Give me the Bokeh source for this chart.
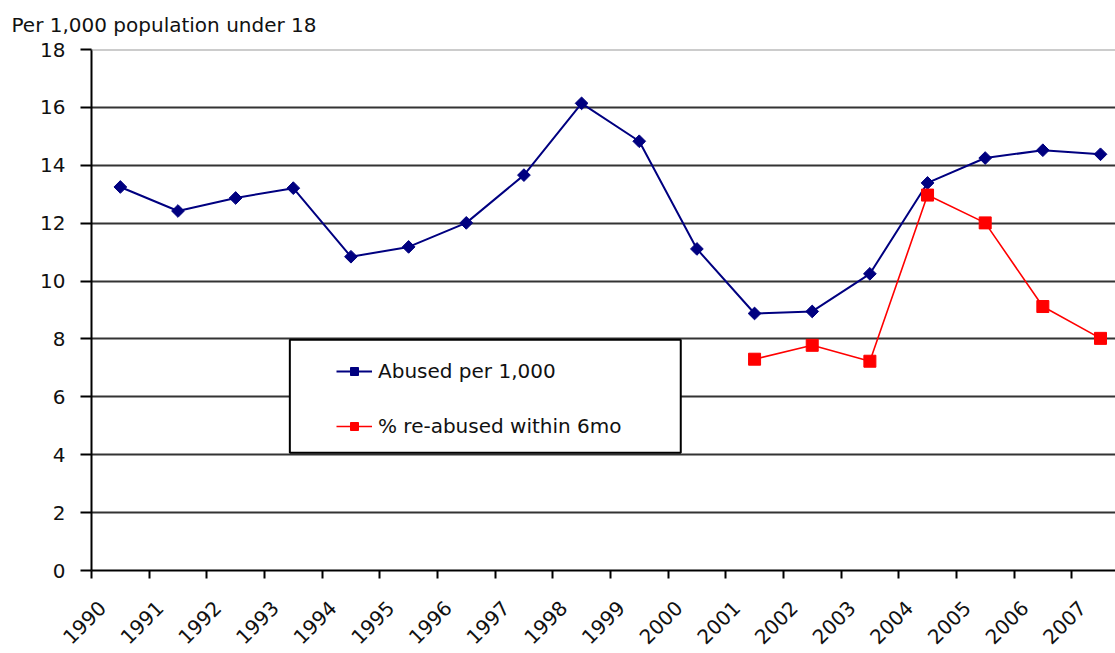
import math
from bokeh.plotting import figure
from bokeh.models import FixedTicker, Legend, LegendItem, BoxAnnotation, Range1d, Span
from bokeh.embed import file_html
from bokeh.resources import INLINE

# ---- data ----
years = list(range(1990, 2008))
abused = [13.25, 12.42, 12.87, 13.21, 10.84, 11.18, 12.01, 13.66, 16.14,
          14.83, 11.11, 8.88, 8.95, 10.25, 13.39, 14.25, 14.52, 14.38]
reabuse_years = list(range(2001, 2008))
reabused = [7.30, 7.78, 7.23, 12.97, 12.01, 9.12, 8.02]
y_ticks = list(range(0, 20, 2))
x_tick_labels = [str(y) for y in years]
caption = "Per 1,000 population under 18"

FONT = "DejaVu Sans"
TXT = "#111111"
MID = 0.5        # Excel category axis: points sit between tick marks
LBL_SHIFT = 0.19  # rotated year labels sit a little right of their tick

p = figure(width=1115, height=653, output_backend="svg", toolbar_location=None,
           x_range=Range1d(1990, 2007.76), y_range=Range1d(0, 18),
           min_border_left=91, min_border_right=0, min_border_top=49,
           min_border_bottom=82)
p.outline_line_color = None
p.background_fill_color = "white"

# caption above the value axis (top-left)
p.title.text = caption
p.title.align = "left"
p.title.vertical_align = "top"
p.title.offset = -80
p.title.standoff = 22
p.title.text_font = FONT
p.title.text_font_size = "20px"
p.title.text_font_style = "normal"
p.title.text_color = TXT

# series
xa = [y + MID for y in years]
xr = [y + MID for y in reabuse_years]
l1 = p.line(xa, abused, line_color="#000080", line_width=2)
s1 = p.scatter(xa, abused, marker="square", angle=math.pi / 4, size=9,
               fill_color="#000080", line_color="#000080")
l2 = p.line(xr, reabused, line_color="#FF0000", line_width=1.6)
s2 = p.scatter(xr, reabused, marker="square", size=12,
               fill_color="#FF0000", line_color="#FF0000")

# axes
xax = p.xaxis[0]
label_pos = [y + LBL_SHIFT for y in years]
xax.ticker = FixedTicker(ticks=label_pos, minor_ticks=years)
xax.major_label_overrides = {pos: s for pos, s in zip(label_pos, x_tick_labels)}
xax.major_label_orientation = math.pi / 4
xax.major_tick_out = 0
xax.major_tick_in = 0
xax.minor_tick_out = 8
xax.minor_tick_in = 0
xax.minor_tick_line_width = 2
xax.minor_tick_line_color = "black"
xax.axis_line_width = 2
xax.axis_line_color = "black"
xax.major_label_standoff = 26
xax.major_label_text_font = FONT
xax.major_label_text_font_size = "20px"
xax.major_label_text_color = TXT

yax = p.yaxis[0]
yax.ticker = FixedTicker(ticks=y_ticks)
yax.major_tick_out = 11
yax.major_tick_in = 0
yax.minor_tick_out = 0
yax.minor_tick_in = 0
yax.major_tick_line_width = 2
yax.major_tick_line_color = "black"
yax.axis_line_width = 2
yax.axis_line_color = "black"
yax.major_label_standoff = 15
yax.major_label_text_font = FONT
yax.major_label_text_font_size = "20px"
yax.major_label_text_color = TXT

p.xgrid.visible = False
p.ygrid.ticker = FixedTicker(ticks=y_ticks[:-1])
p.ygrid.grid_line_color = "#333333"
p.ygrid.grid_line_width = 2
# plot-area top border (lighter grey in the original)
p.add_layout(Span(location=y_ticks[-1], dimension="width",
                  line_color="#9a9a9a", line_width=2))

# legend frame
box = BoxAnnotation(left=1993.44, right=2000.22, bottom=4.07, top=7.97,
                    fill_color="white", fill_alpha=1.0,
                    line_color="black", line_width=2, line_alpha=1.0)
p.add_layout(box)

legend = Legend(items=[LegendItem(label="Abused per 1,000", renderers=[l1, s1]),
                       LegendItem(label="% re-abused within 6mo", renderers=[l2, s2])],
                location=(245, 132), padding=0, margin=0, spacing=31,
                glyph_width=36, glyph_height=20, label_height=20, label_standoff=6,
                border_line_alpha=0, background_fill_alpha=0,
                label_text_font=FONT, label_text_font_size="20px",
                label_text_color=TXT)
p.add_layout(legend)

open("out.html", "w").write(file_html(p, INLINE))
